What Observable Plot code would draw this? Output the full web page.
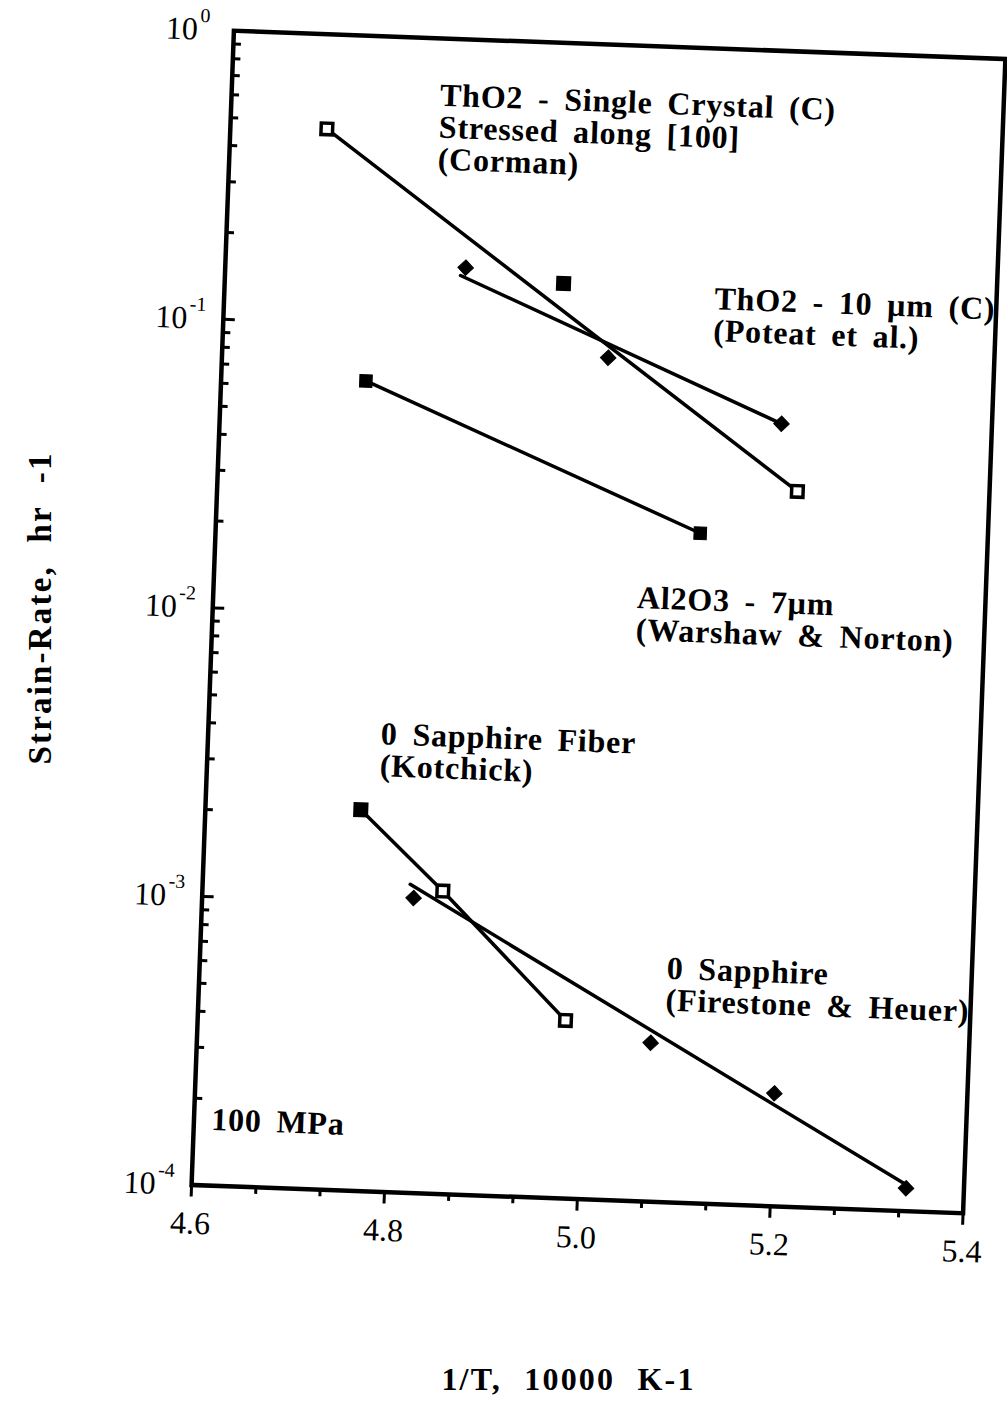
<!DOCTYPE html>
<html><head><meta charset="utf-8">
<script src="https://cdn.jsdelivr.net/npm/d3@7"></script>
<script src="https://cdn.jsdelivr.net/npm/@observablehq/plot@0.6"></script>
<style>
body{margin:0;background:#fff}
</style>
</head><body><div id="chart"></div>
<script>
// ThO2 single crystal (Corman): squares, fit line between end points
const cormanX = [4.700, 4.951, 5.201];
const cormanY = [0.47, 0.147, 0.030];
const cormanLineX = [4.700, 5.201];
const cormanLineY = [0.47, 0.030];
// ThO2 10 µm (Poteat et al.): diamonds + fit line
const poteatX = [4.849, 5.000, 5.182];
const poteatY = [0.162, 0.0824, 0.0512];
const poteatLineX = [4.844, 5.182];
const poteatLineY = [0.152, 0.0512];
// Al2O3 7 µm (Warshaw & Norton): squares
const warshawX = [4.750, 5.102];
const warshawY = [0.0638, 0.0209];
// Sapphire fiber (Kotchick): squares
const kotchickX = [4.761, 4.849, 4.981];
const kotchickY = [0.00209, 0.00112, 0.000414];
// Sapphire (Firestone & Heuer): diamonds + fit line
const firestoneX = [4.819, 5.070, 5.200, 5.340];
const firestoneY = [0.00105, 0.000355, 0.000246, 0.000120];
const firestoneLineX = [4.815, 5.337];
const firestoneLineY = [0.00117, 0.000125];

// annotations
const labelText = [
  "ThO2 - Single Crystal (C)\nStressed along [100]\n(Corman)",
  "ThO2 - 10 µm (C)\n(Poteat et al.)",
  "Al2O3 - 7µm\n(Warshaw & Norton)",
  "0 Sapphire Fiber\n(Kotchick)",
  "0 Sapphire\n(Firestone & Heuer)",
  "100 MPa"
];
const labelX = [4.816, 5.108, 5.039, 4.779, 5.084, 4.618];
const labelY = [0.701, 0.150, 0.01355, 0.00425, 0.000713, 0.000187];

// ticks
const xTicks = [4.6, 4.8, 5.0, 5.2, 5.4];
const xTickLabels = ["4.6", "4.8", "5.0", "5.2", "5.4"];
const xMinor = [4.6667, 4.7333, 4.8667, 4.9333, 5.0667, 5.1333, 5.2667, 5.3333];
const yTicks = [1e-4, 1e-3, 1e-2, 1e-1, 1];
const yExps = ["-4", "-3", "-2", "-1", "0"];
const yMinor = [1e-4, 1e-3, 1e-2, 1e-1].flatMap(d => [2,3,4,5,6,7,8,9].map(m => m * d));

const xTitle = "1/T, 10000 K-1";
const yTitle = "Strain-Rate, hr -1";

const pts = (xs, ys) => xs.map((x, i) => ({x, y: ys[i]}));
const serif = "'Liberation Serif', 'Times New Roman', serif";
const LW = 3.5;
const W = 1007, H = 1412, ML = 212, MR = 23, MT = 44, MB = 213;
const plotW = W - ML - MR;
const blank = () => "";

const plot = Plot.plot({
  width: W,
  height: H,
  marginTop: MT,
  marginBottom: MB,
  marginLeft: ML,
  marginRight: MR,
  style: {fontFamily: serif, background: "#fff", color: "#000"},
  x: {type: "linear", domain: [4.6, 5.4]},
  y: {type: "log", domain: [1e-4, 1]},
  marks: [
    Plot.frame({stroke: "#000", strokeWidth: 4.5}),
    // x axis ticks (outward)
    Plot.axisX({ticks: xTicks, tickSize: 12, strokeWidth: 3, tickFormat: (d, i) => xTickLabels[i], tickPadding: 14, fontSize: 32, label: null}),
    Plot.axisX({ticks: xMinor, tickSize: 7, strokeWidth: 3, tickFormat: blank, label: null}),
    // y axis ticks (inward, drawn from the left edge towards the plot)
    Plot.axisY({anchor: "right", dx: -plotW, ticks: yTicks, tickSize: 11, strokeWidth: 3, tickFormat: blank, label: null}),
    Plot.axisY({anchor: "right", dx: -plotW, ticks: yMinor, tickSize: 7, strokeWidth: 3, tickFormat: blank, label: null}),
    Plot.axisY({ticks: yTicks, tickSize: 0, tickPadding: 36, tickFormat: () => "10", fontSize: 32, label: null}),
    Plot.text(yTicks, {y: d => d, frameAnchor: "left", text: (d, i) => yExps[i], dx: -34, dy: -14,
      textAnchor: "start", fontSize: 20, fontFamily: serif}),
    // axis titles
    Plot.text([xTitle], {frameAnchor: "bottom", textAnchor: "middle", dx: -30, dy: 190, fontSize: 32, fontWeight: "bold",
      fontFamily: serif, ariaDescription: "axis-title"}),
    Plot.text([yTitle], {frameAnchor: "left", textAnchor: "middle", rotate: -90, dx: -172, dy: -14, fontSize: 33, fontWeight: "bold",
      fontFamily: serif, ariaDescription: "axis-title"}),
    // lines
    Plot.line(pts(cormanLineX, cormanLineY), {x: "x", y: "y", stroke: "#000", strokeWidth: LW}),
    Plot.line(pts(poteatLineX, poteatLineY), {x: "x", y: "y", stroke: "#000", strokeWidth: LW}),
    Plot.line(pts(warshawX, warshawY), {x: "x", y: "y", stroke: "#000", strokeWidth: LW}),
    Plot.line(pts(kotchickX, kotchickY), {x: "x", y: "y", stroke: "#000", strokeWidth: LW}),
    Plot.line(pts(firestoneLineX, firestoneLineY), {x: "x", y: "y", stroke: "#000", strokeWidth: LW}),
    // markers
    Plot.dot(pts(cormanX, cormanY), {x: "x", y: "y", symbol: "square", r: 6.5, stroke: "#000", strokeWidth: 3.5,
      fill: (d, i) => i === 1 ? "#000" : "#fff"}),
    Plot.dot(pts(warshawX, warshawY), {x: "x", y: "y", symbol: "square", r: 7, fill: "#000", stroke: "#000", strokeWidth: 1}),
    Plot.dot(pts(kotchickX, kotchickY), {x: "x", y: "y", symbol: "square", r: 6.5, stroke: "#000", strokeWidth: 3.5,
      fill: (d, i) => i === 0 ? "#000" : "#fff"}),
    Plot.dot(pts(poteatX, poteatY), {x: "x", y: "y", symbol: "diamond2", r: 7, fill: "#000", stroke: "#000", strokeWidth: 1}),
    Plot.dot(pts(firestoneX, firestoneY), {x: "x", y: "y", symbol: "diamond2", r: 7, fill: "#000", stroke: "#000", strokeWidth: 1}),
    // annotations
    Plot.text(labelText, {x: (d, i) => labelX[i], y: (d, i) => labelY[i], text: d => d,
      textAnchor: "start", lineAnchor: "top", lineHeight: 1.0, fontSize: 32, fontWeight: "bold",
      fontFamily: serif, ariaDescription: "annotation"})
  ]
});

// wider spacing of the lettering, as in the original
plot.querySelectorAll('g[aria-description="annotation"]').forEach(g => {
  g.setAttribute("letter-spacing", "0.8px");
  g.setAttribute("word-spacing", "6px");
});
plot.querySelectorAll('g[aria-description="axis-title"]').forEach(g => {
  g.setAttribute("letter-spacing", "2.2px");
  g.setAttribute("word-spacing", "12px");
});

// the original figure is a slightly tilted scan: tilt the chart body (not the axis titles)
const ns = "http://www.w3.org/2000/svg";
const body = document.createElementNS(ns, "g");
body.setAttribute("transform", `rotate(2.1 ${(ML + W - MR) / 2} ${(MT + H - MB) / 2})`);
Array.from(plot.children).forEach(el => {
  const tag = el.tagName.toLowerCase();
  if (tag !== "style" && el.getAttribute("aria-description") !== "axis-title") body.appendChild(el);
});
plot.appendChild(body);
document.getElementById("chart").appendChild(plot);
</script>
</body></html>
